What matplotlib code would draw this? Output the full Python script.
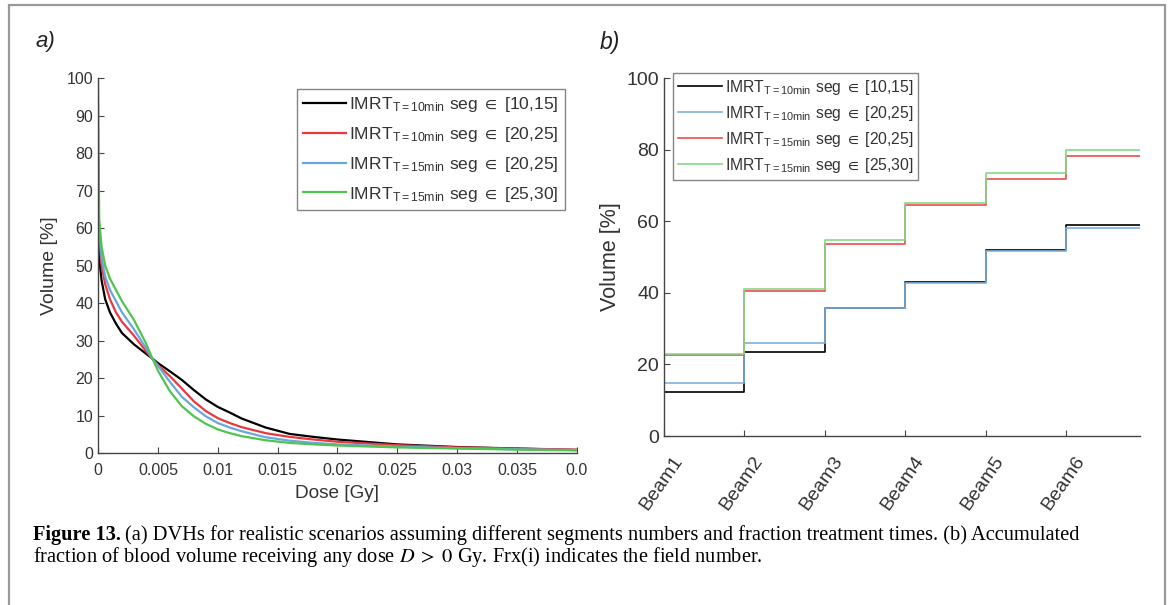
import matplotlib
matplotlib.use("Agg")
import matplotlib.pyplot as plt
import matplotlib.patches as patches
import matplotlib.transforms as mtransforms
import numpy as np

plt.rcParams['font.family'] = ['Liberation Sans', 'DejaVu Sans']
plt.rcParams['mathtext.fontset'] = 'stix'

# ---- panel a: DVH curves ----
dose = [0, 0.0001, 0.0003, 0.0006, 0.001, 0.0015, 0.002, 0.003, 0.004, 0.0045,
        0.005, 0.006, 0.007, 0.008, 0.009, 0.010, 0.011, 0.012, 0.014, 0.016,
        0.018, 0.020, 0.025, 0.030, 0.035, 0.040]
vol_10min_10_15 = [60, 52, 46, 41, 37.5, 34.5, 32, 29, 26.5, 25.3,
                   24, 21.8, 19.5, 16.8, 14.3, 12.3, 10.8, 9.2, 6.8, 5.1,
                   4.3, 3.6, 2.3, 1.6, 1.2, 0.8]
vol_10min_20_25 = [80, 58, 50, 45, 41, 37.5, 35, 31.3, 27.2, 25.3,
                   23.5, 20.5, 17.2, 13.8, 11.2, 9.3, 8.0, 6.9, 5.3, 4.3,
                   3.6, 3.0, 2.1, 1.5, 1.2, 0.9]
vol_15min_20_25 = [70, 60, 52, 47, 43.5, 40.5, 37.5, 33, 28, 25.3,
                   23.3, 19, 15, 12.2, 9.8, 8.0, 6.8, 5.8, 4.2, 3.3,
                   2.7, 2.3, 1.7, 1.3, 1.0, 0.8]
vol_15min_25_30 = [100, 62, 55, 50, 46.5, 43.5, 40.5, 35.5, 29.3, 25.5,
                   22, 16.5, 12.5, 9.8, 7.8, 6.3, 5.3, 4.5, 3.4, 2.7,
                   2.3, 2.0, 1.5, 1.2, 0.9, 0.7]
dose_ticks = [0, 0.005, 0.01, 0.015, 0.02, 0.025, 0.03, 0.035, 0.04]
dose_ticklabels = ['0', '0.005', '0.01', '0.015', '0.02', '0.025', '0.03', '0.035', '0.0']

# ---- panel b: accumulated volume per beam ----
beams = ['Beam1', 'Beam2', 'Beam3', 'Beam4', 'Beam5', 'Beam6']
acc_10min_10_15 = [12.4, 23.6, 35.8, 43.1, 52.0, 58.9]
acc_10min_20_25 = [14.9, 25.9, 35.7, 42.7, 51.6, 58.1]
acc_15min_20_25 = [22.5, 40.4, 53.6, 64.4, 71.8, 78.2]
acc_15min_25_30 = [23.0, 41.2, 54.8, 65.2, 73.5, 80.0]

lab = [r'IMRT$_{\mathregular{T=10min}}$ seg $\in$ [10,15]',
       r'IMRT$_{\mathregular{T=10min}}$ seg $\in$ [20,25]',
       r'IMRT$_{\mathregular{T=15min}}$ seg $\in$ [20,25]',
       r'IMRT$_{\mathregular{T=15min}}$ seg $\in$ [25,30]']

axcol = '#444444'
txtcol = '#333333'

fig = plt.figure(figsize=(11.71, 6.05), dpi=100)

# outer frame
fig.patches.append(patches.Rectangle((9 / 1171, -0.05), 1156 / 1171, 1.05 - 5 / 605,
                                     transform=fig.transFigure, fill=False,
                                     edgecolor='#999999', lw=1.6))

ax1 = fig.add_axes([0.0837, 0.2512, 0.409, 0.6198])
ax1.plot(dose, vol_10min_10_15, color='black', lw=1.6, label=lab[0])
ax1.plot(dose, vol_10min_20_25, color='#e8393f', lw=1.6, label=lab[1])
ax1.plot(dose, vol_15min_20_25, color='#6aa6dc', lw=1.6, label=lab[2])
ax1.plot(dose, vol_15min_25_30, color='#4fc44f', lw=1.6, label=lab[3])
ax1.set_xlim(0, 0.04)
ax1.set_ylim(0, 100)
ax1.set_xticks(dose_ticks)
ax1.set_xticklabels(dose_ticklabels)
ax1.set_yticks(np.arange(0, 101, 10))
ax1.set_xlabel('Dose [Gy]', fontsize=13.7, color=txtcol, labelpad=5)
ax1.set_ylabel('Volume [%]', fontsize=14, color=txtcol, labelpad=6)
leg1 = ax1.legend(loc='upper right', bbox_to_anchor=(0.975, 0.971), borderaxespad=0,
                  fontsize=12.6, handlelength=2.45, handletextpad=0.2,
                  labelspacing=0.62, borderpad=0.35, fancybox=False, frameon=True)

ax2 = fig.add_axes([0.567, 0.2793, 0.4065, 0.5917])
xb = np.arange(1, len(beams) + 2)
ax2.step(xb, acc_10min_10_15 + acc_10min_10_15[-1:], where='post', color='black', lw=1.2, label=lab[0])
ax2.step(xb, acc_10min_20_25 + acc_10min_20_25[-1:], where='post', color='#7fb0dc', lw=1.2, label=lab[1])
ax2.step(xb, acc_15min_20_25 + acc_15min_20_25[-1:], where='post', color='#ee4d4d', lw=1.2, label=lab[2])
ax2.step(xb, acc_15min_25_30 + acc_15min_25_30[-1:], where='post', color='#86d886', lw=1.2, label=lab[3])
ax2.set_xlim(1, 6.92)
ax2.set_ylim(0, 100)
ax2.set_xticks(xb[:-1])
ax2.set_xticklabels(beams, rotation=55, ha='right', rotation_mode='anchor')
ax2.set_yticks(np.arange(0, 101, 20))
ax2.set_ylabel('Volume [%]', fontsize=15.5, color=txtcol, labelpad=4)
leg2 = ax2.legend(loc='upper left', bbox_to_anchor=(0.019, 1.014), borderaxespad=0,
                  fontsize=11.3, handlelength=2.8, handletextpad=0.2,
                  labelspacing=0.45, borderpad=0.3, fancybox=False, frameon=True)

for ax, fs in ((ax1, 11.5), (ax2, 14)):
    for s in ('top', 'right'):
        ax.spines[s].set_visible(False)
    for s in ('left', 'bottom'):
        ax.spines[s].set_color(axcol)
        ax.spines[s].set_linewidth(1.0)
    ax.tick_params(direction='in', length=4, width=0.8, colors=axcol,
                   labelcolor=txtcol, labelsize=fs)
ax1.tick_params(axis='x', pad=7)
ax2.tick_params(axis='x', pad=10)
shift = mtransforms.ScaledTranslation(8 / 100, -3 / 100, fig.dpi_scale_trans)
for t in ax2.get_xticklabels():
    t.set_transform(t.get_transform() + shift)
for leg in (leg1, leg2):
    leg.get_frame().set_edgecolor('#666666')
    leg.get_frame().set_linewidth(1.0)
    for t in leg.get_texts():
        t.set_color(txtcol)

fig.text(36 / 1171, 1 - 42 / 605, 'a)', fontsize=16, style='italic', va='center', color='#222222')
fig.text(600 / 1171, 1 - 42 / 605, 'b)', fontsize=16.5, style='italic', va='center', color='#222222')

# caption
cap_font = ['Liberation Serif', 'DejaVu Serif']
cap_fs = 14.7
y1 = 1 - 535 / 605
head = fig.text(33 / 1171, y1, 'Figure 13.', family=cap_font, weight='bold',
                fontsize=cap_fs, va='center')
r = fig.canvas.get_renderer()
bb = head.get_window_extent(renderer=r)
fig.text((bb.x1 + 4) / 1171, y1, '(a) DVHs for realistic scenarios assuming different segments numbers and '
         'fraction treatment times. (b) Accumulated', family=cap_font, fontsize=cap_fs, va='center')
fig.text(33 / 1171, 1 - 557 / 605, r'fraction of blood volume receiving any dose $D\;>\;0$ Gy. '
         'Frx(i) indicates the field number.', family=cap_font, fontsize=cap_fs, va='center')

fig.savefig('out.png', dpi=100)
